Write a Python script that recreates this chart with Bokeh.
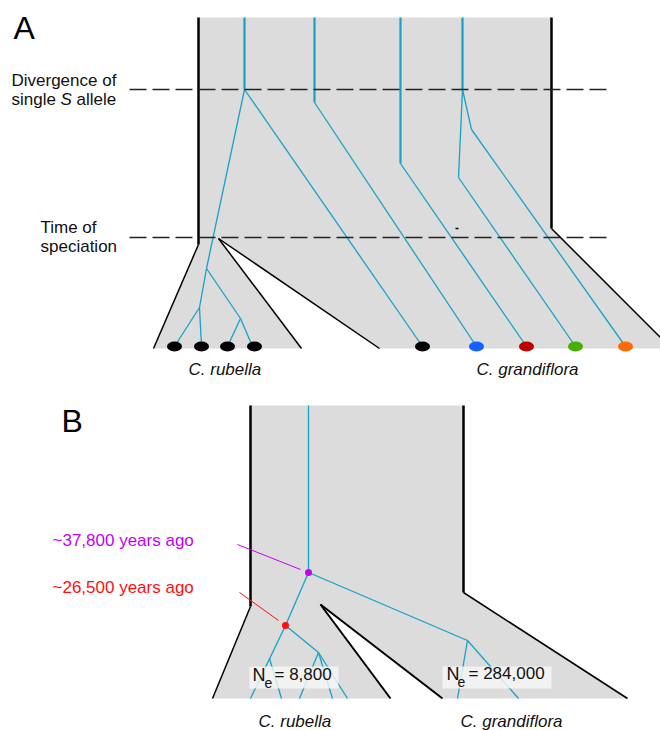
from bokeh.plotting import figure
from bokeh.models import Range1d, ColumnDataSource
from bokeh.core.properties import value
from bokeh.embed import file_html
from bokeh.resources import INLINE

FONT = value("Liberation Sans")
BLUE = "#17a1c8"
GRAY = "#dcdcdc"

# ---------------- Panel A data ----------------
a_gray_x = [198, 551, 551, 660, 660, 379, 218, 301, 153, 198]
a_gray_y = [17, 17, 228, 337, 348, 348, 238, 348, 348, 244]

a_thick_black = [(198, 17, 198, 244), (551, 17, 551, 228)]
a_thin_black = [(198, 244, 153, 348), (551, 228, 660, 337),
                (301, 348, 218, 238), (218, 238, 379, 348),
                (455, 228, 458, 228)]

a_dash_y = [89, 237]
a_dash_x0 = [129, 129]
a_dash_x1 = [612, 612]

a_blue_thick = [(244, 17, 244, 89), (314, 17, 314, 102),
                (400, 17, 400, 163), (462, 17, 462, 89)]
a_blue_thin = [(244, 89, 206, 268), (206, 268, 199, 307), (199, 307, 201, 346),
               (199, 307, 174, 346), (206, 268, 240, 318), (240, 318, 227, 346),
               (240, 318, 252, 346), (244, 89, 422, 346), (314, 102, 476, 346),
               (400, 163, 526, 346), (462, 89, 458, 177), (458, 177, 575, 346),
               (462, 89, 471, 129), (471, 129, 625, 346)]

a_dot_x = [174, 201, 227, 254, 422, 476, 526, 575, 625]
a_dot_y = [346] * 9
a_dot_color = ["#000000"] * 5 + ["#1560ff", "#bb0000", "#44b000", "#ff6a00"]

# ---------------- Panel B data ----------------
b_gray_x = [250, 463, 463, 627, 442, 320, 390, 212, 250]
b_gray_y = [405, 405, 592, 698, 698, 604, 698, 698, 606]

b_thick_black = [(250, 405, 250, 606), (463, 405, 463, 592)]
b_thin_black = [(250, 606, 212, 698), (463, 592, 627, 698)]
b_wedge_black = [(390, 698, 320, 604), (320, 604, 442, 698)]

b_blue = [(308, 405, 308, 572), (308, 572, 467, 640), (308, 572, 285, 625),
          (285, 625, 250, 698), (285, 625, 318, 652), (318, 652, 299, 698),
          (318, 652, 332, 698), (318, 652, 347, 698), (269, 658, 281, 698),
          (467, 640, 457, 698), (467, 640, 518, 698)]

b_marker_x = [308, 285]
b_marker_y = [572, 625]
b_marker_color = ["#c400f5", "#ff1010"]
b_pointer = [(237, 544, 300, 569), (239, 592, 278, 620)]

b_ne_box_left = [249, 442]
b_ne_box_right = [338, 551]
b_ne_box_top = [666, 666]
b_ne_box_bottom = [688, 688]
b_ne_N_x = [252, 446]
b_ne_e_x = [264, 457]
b_ne_val_x = [274, 468]
b_ne_mid = [674, 673]
b_ne_values = ["= 8,800", "= 284,000"]

# ---------------- Texts (x = left edge, y = vertical middle) ----------------
panel_letters = ["A", "B"]
panel_letter_x = [13, 61]
panel_letter_y = [27, 420]

a_label_text = ["Divergence of", "single ", "allele", "Time of", "speciation"]
a_label_x = [11, 11, 76, 40, 40]
a_label_y = [80, 99, 99, 227, 246]
a_italic_S = ("S", 60, 99)

species_text = ["C. rubella", "C. grandiflora", "C. rubella", "C. grandiflora"]
species_x = [188, 476, 258, 460]
species_y = [369, 369, 721, 721]

b_time_text = ["~37,800 years ago", "~26,500 years ago"]
b_time_x = [52, 52]
b_time_y = [540, 587]

# ---------------- Figure ----------------
p = figure(width=660, height=730, x_range=Range1d(0, 660), y_range=Range1d(730, 0),
           output_backend="svg", toolbar_location=None,
           x_axis_type=None, y_axis_type=None, min_border=0,
           min_border_left=0, min_border_right=0, min_border_top=0, min_border_bottom=0)
p.grid.visible = False
p.outline_line_color = None
p.background_fill_color = "white"
p.border_fill_color = "white"


def segs(lst):
    return dict(x0=[s[0] for s in lst], y0=[s[1] for s in lst],
                x1=[s[2] for s in lst], y1=[s[3] for s in lst])


# gray areas
p.patch(a_gray_x, a_gray_y, fill_color=GRAY, line_color=None)
p.patch(b_gray_x, b_gray_y, fill_color=GRAY, line_color=None)

# blue trees
p.segment(source=ColumnDataSource(segs(a_blue_thick)), x0="x0", y0="y0", x1="x1", y1="y1",
          line_color=BLUE, line_width=2.2)
p.segment(source=ColumnDataSource(segs(a_blue_thin)), x0="x0", y0="y0", x1="x1", y1="y1",
          line_color=BLUE, line_width=1.3)
p.segment(source=ColumnDataSource(segs(b_blue)), x0="x0", y0="y0", x1="x1", y1="y1",
          line_color=BLUE, line_width=1.3)

# black outlines
p.segment(source=ColumnDataSource(segs(a_thick_black + b_thick_black)),
          x0="x0", y0="y0", x1="x1", y1="y1", line_color="black", line_width=2.5)
p.segment(source=ColumnDataSource(segs(a_thin_black + b_thin_black)),
          x0="x0", y0="y0", x1="x1", y1="y1", line_color="black", line_width=1.5)
p.segment(source=ColumnDataSource(segs(b_wedge_black)),
          x0="x0", y0="y0", x1="x1", y1="y1", line_color="black", line_width=2)

# dashed lines
p.segment(x0=a_dash_x0, y0=a_dash_y, x1=a_dash_x1, y1=a_dash_y,
          line_color="#222222", line_width=1.5, line_dash="17 6")

# dots
p.ellipse(x=a_dot_x, y=a_dot_y, width=15, height=10, width_units="screen",
          height_units="screen", fill_color=a_dot_color, line_color=None)

# B pointers and markers
pt = segs(b_pointer)
pt["c"] = b_marker_color
p.segment(source=ColumnDataSource(pt), x0="x0", y0="y0", x1="x1", y1="y1",
          line_color="c", line_width=1)
p.scatter(x=b_marker_x, y=b_marker_y, size=7, fill_color=b_marker_color, line_color=None)

# Ne boxes
p.quad(left=b_ne_box_left, right=b_ne_box_right, top=b_ne_box_top, bottom=b_ne_box_bottom,
       fill_color="#f8f8f8", fill_alpha=0.8, line_color=None)
p.text(x=b_ne_N_x, y=b_ne_mid, text=["N", "N"], text_font=FONT, text_font_size="18px",
       text_baseline="middle", text_align="left", text_color="#111111")
p.text(x=b_ne_e_x, y=[m + 8 for m in b_ne_mid], text=["e", "e"], text_font=FONT,
       text_font_size="14px", text_baseline="middle", text_align="left", text_color="#111111")
p.text(x=b_ne_val_x, y=b_ne_mid, text=b_ne_values, text_font=FONT, text_font_size="17px",
       text_baseline="middle", text_align="left", text_color="#111111")

# texts
p.text(x=panel_letter_x, y=panel_letter_y, text=panel_letters, text_font=FONT,
       text_font_size="32px", text_baseline="middle", text_align="left", text_color="black")
p.text(x=a_label_x, y=a_label_y, text=a_label_text, text_font=FONT, text_font_size="17px",
       text_baseline="middle", text_align="left", text_color="#111111")
p.text(x=[a_italic_S[1]], y=[a_italic_S[2]], text=[a_italic_S[0]], text_font=FONT,
       text_font_size="17px", text_font_style="italic", text_baseline="middle",
       text_align="left", text_color="#111111")
p.text(x=species_x, y=species_y, text=species_text, text_font=FONT, text_font_size="17px",
       text_font_style="italic", text_baseline="middle", text_align="left",
       text_color="#111111")
p.text(x=b_time_x, y=b_time_y, text=b_time_text, text_font=FONT, text_font_size="17px",
       text_baseline="middle", text_align="left", text_color=b_marker_color)

open("out.html", "w").write(file_html(p, INLINE))
